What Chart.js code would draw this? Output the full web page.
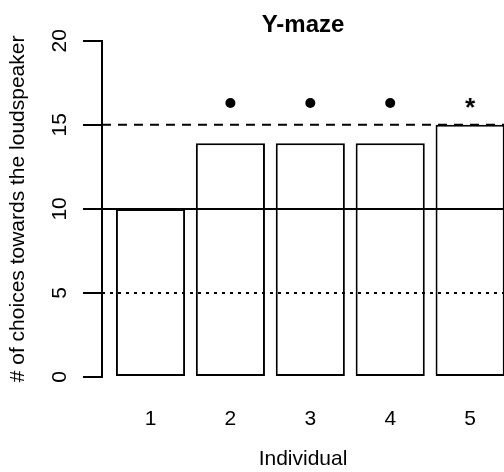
<!DOCTYPE html>
<html>
<head>
<meta charset="utf-8">
<script src="https://cdn.jsdelivr.net/npm/chart.js@4"></script>
<style>
html, body { margin: 0; padding: 0; background: #fff; overflow: hidden; }
#wrap { width: 504px; height: 472px; }
</style>
</head>
<body>
<div id="wrap"><canvas id="chart_y_maze"></canvas></div>
<script>
// data
var individuals = [1, 2, 3, 4, 5];
var choices = [10, 13.9, 13.9, 13.9, 15];
var y_ticks = [0, 5, 10, 15, 20];
var ref_levels = [15, 10, 5];
var sig_marks = ['', 'dot', 'dot', 'dot', '*'];
var sig_y = 16.3;

// styles
var font_family = '"Liberation Sans", Arial, Helvetica, sans-serif';
var ref_dashes = [[9, 7], [], [3, 5]];
var x_min = 0.393, x_max = 5.424;

function make_star() {
    var c = document.createElement('canvas');
    c.width = 30;
    c.height = 30;
    var g = c.getContext('2d');
    g.font = 'bold 26px ' + font_family;
    g.textAlign = 'center';
    g.textBaseline = 'alphabetic';
    g.fillStyle = '#000';
    g.fillText('*', 15, 13 + 0.57 * 26);
    return c;
}
var star_img = make_star();

// y tick labels, rotated like R's default axis
var y_tick_labels_plugin = {
    id: 'y_tick_labels',
    afterDraw: function (chart) {
        var scale = chart.scales.y;
        var ctx = chart.ctx;
        ctx.save();
        ctx.font = '21px ' + font_family;
        ctx.fillStyle = '#000';
        ctx.textAlign = 'center';
        ctx.textBaseline = 'middle';
        scale.ticks.forEach(function (tick) {
            var py = scale.getPixelForValue(tick.value);
            ctx.save();
            ctx.translate(scale.right - 42, py);
            ctx.rotate(-Math.PI / 2);
            ctx.fillText(String(tick.value), 0, 0);
            ctx.restore();
        });
        ctx.restore();
    }
};

var datasets = [];

datasets.push({
    type: 'bar',
    data: individuals.map(function (v, i) { return {x: v, y: choices[i]}; }),
    backgroundColor: '#fff',
    borderColor: '#000',
    borderWidth: 2,
    borderSkipped: false,
    barPercentage: 0.865,
    categoryPercentage: 1,
    order: 2
});

ref_levels.forEach(function (lvl, i) {
    datasets.push({
        type: 'line',
        data: [{x: x_min, y: lvl}, {x: x_max, y: lvl}],
        borderColor: '#000',
        borderWidth: 2,
        borderDash: ref_dashes[i],
        pointRadius: 0,
        fill: false,
        tension: 0,
        order: 1
    });
});

datasets.push({
    type: 'scatter',
    data: individuals
        .map(function (v, i) { return {x: v, y: sig_y, mark: sig_marks[i]}; })
        .filter(function (p) { return p.mark !== ''; }),
    pointStyle: function (ctx) {
        return ctx.raw && ctx.raw.mark === '*' ? star_img : 'circle';
    },
    pointRadius: 5,
    pointBackgroundColor: '#000',
    pointBorderWidth: 0,
    order: 0
});

Chart.defaults.color = '#000';
Chart.defaults.font.family = font_family;

new Chart(document.getElementById('chart_y_maze'), {
    type: 'bar',
    data: { datasets: datasets },
    options: {
        responsive: true,
        maintainAspectRatio: false,
        animation: false,
        layout: { padding: 0, autoPadding: false },
        plugins: {
            legend: { display: false },
            tooltip: { enabled: false },
            title: {
                display: true,
                text: 'Y-maze',
                fullSize: false,
                color: '#000',
                font: { size: 24, weight: 'bold' },
                padding: { top: 11, bottom: 1 }
            }
        },
        scales: {
            x: {
                type: 'linear',
                offset: false,
                min: x_min,
                max: x_max,
                afterBuildTicks: function (scale) {
                    scale.ticks = individuals.map(function (v) { return {value: v}; });
                },
                afterFit: function (scale) {
                    scale.height = 95;
                    scale.paddingLeft = 0;
                    scale.paddingRight = 0;
                },
                grid: { display: false },
                border: { display: false },
                ticks: { font: { size: 21 }, padding: 22, maxRotation: 0 },
                title: {
                    display: true,
                    text: 'Individual',
                    font: { size: 21 },
                    padding: { top: 0, bottom: 0 }
                }
            },
            y: {
                min: 0,
                max: 20,
                afterBuildTicks: function (scale) {
                    scale.ticks = y_ticks.map(function (v) { return {value: v}; });
                },
                afterFit: function (scale) { scale.width = 102; },
                grid: {
                    display: true,
                    drawOnChartArea: false,
                    drawTicks: true,
                    tickLength: 19,
                    color: '#000',
                    lineWidth: 2
                },
                border: { display: true, color: '#000', width: 2 },
                ticks: { display: false },
                title: {
                    display: true,
                    text: '# of choices towards the loudspeaker',
                    font: { size: 21 },
                    padding: { top: 6, bottom: 0 }
                }
            }
        }
    },
    plugins: [y_tick_labels_plugin]
});
</script>
</body>
</html>
